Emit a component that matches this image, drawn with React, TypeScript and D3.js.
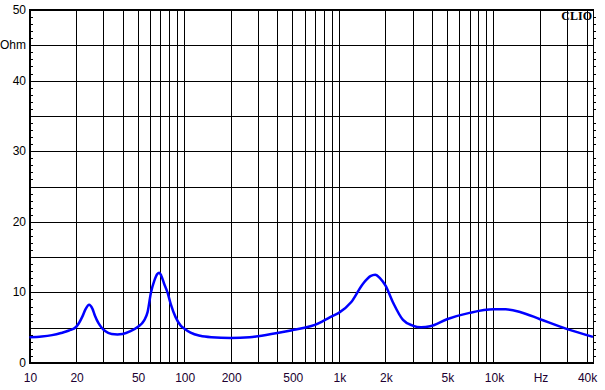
import React from "react";
import * as d3 from "d3";

const freqs = [10, 12, 14, 16, 18, 20, 22, 23, 24.3, 25.5, 26.5, 28, 29.3, 31, 34, 37, 40, 45, 50, 55, 58, 61, 64, 67, 69, 71, 74, 78, 82, 88, 95, 100, 110, 127, 150, 200, 265, 300, 400, 500, 600, 700, 800, 900, 1000, 1200, 1430, 1600, 1720, 1850, 2000, 2250, 2600, 3000, 3400, 3900, 5000, 7000, 10000, 12000, 15000, 20000, 30000, 44000];
const ohms = [3.65, 3.75, 3.95, 4.25, 4.6, 5.1, 6.6, 7.6, 8.25, 7.7, 6.7, 5.6, 5.0, 4.5, 4.1, 4.05, 4.1, 4.5, 5.1, 6.0, 7.2, 10.0, 11.6, 12.6, 12.8, 12.4, 11.3, 10.0, 8.3, 6.5, 5.3, 4.9, 4.3, 3.85, 3.65, 3.55, 3.65, 3.8, 4.25, 4.65, 5.0, 5.4, 6.0, 6.6, 7.1, 8.6, 11.2, 12.3, 12.5, 12.0, 11.0, 8.5, 6.1, 5.3, 5.05, 5.2, 6.2, 7.1, 7.6, 7.6, 7.2, 6.2, 4.8, 3.7];

const xTickValues = [10, 20, 50, 100, 200, 500, 1000, 2000, 5000, 10000, 20000, 40000];
const xTickLabels = ["10", "20", "50", "100", "200", "500", "1k", "2k", "5k", "10k", "Hz", "40k"];
const yTickValues = [0, 10, 20, 30, 40, 45, 50];
const yTickLabels = ["0", "10", "20", "30", "40", "Ohm", "50"];

export default function App() {
  const W = 605, H = 390;
  const left = 29.5, right = 593, top = 10, bottom = 363;
  const x = d3.scaleLog().domain([10, 44000]).range([left, right]);
  const y = d3.scaleLinear().domain([0, 50]).range([bottom, top]);

  const vLines: number[] = [];
  [10, 100, 1000, 10000].forEach((d) => {
    for (let m = 1; m <= 9; m++) {
      const f = m * d;
      if (f > 10 && f <= 40000) vLines.push(f);
    }
  });
  const hLines = d3.range(5, 50, 5);
  const minor = d3.range(1, 50, 1).filter((v) => v % 5 !== 0);

  const data = freqs.map((f, i) => [f, ohms[i]] as [number, number]);
  const line = d3
    .line<[number, number]>()
    .x((d) => x(d[0]))
    .y((d) => y(d[1]))
    .curve(d3.curveMonotoneX);

  return (
    <svg width={W} height={H} style={{ position: "absolute", left: 0, top: 0, background: "#fff" }}
      fontFamily="'Liberation Sans', Arial, sans-serif">
      <rect x={0} y={0} width={W} height={H} fill="#fff" />
      <g stroke="#000" strokeWidth={1} shapeRendering="crispEdges">
        {vLines.map((f) => (
          <line key={"v" + f} x1={Math.round(x(f)) + 0.5} x2={Math.round(x(f)) + 0.5} y1={top} y2={bottom} />
        ))}
        {hLines.map((v) => (
          <line key={"h" + v} x1={left} x2={right} y1={Math.round(y(v)) + 0.5} y2={Math.round(y(v)) + 0.5} />
        ))}
        {minor.map((v) => (
          <line key={"ml" + v} x1={left} x2={left + 3} y1={Math.round(y(v)) + 0.5} y2={Math.round(y(v)) + 0.5} />
        ))}
        {minor.map((v) => (
          <line key={"mr" + v} x1={right} x2={right + 3} y1={Math.round(y(v)) + 0.5} y2={Math.round(y(v)) + 0.5} />
        ))}
        <line x1={right + 0.5} x2={right + 0.5} y1={top} y2={bottom} />
      </g>
      <g stroke="#000" strokeWidth={2} shapeRendering="crispEdges">
        <line x1={left - 1} x2={right + 1} y1={top} y2={top} />
        <line x1={left - 1} x2={right + 1} y1={bottom} y2={bottom} />
        <line x1={left} x2={left} y1={top - 1} y2={bottom + 1} />
      </g>
      <path d={line(data) || ""} fill="none" stroke="#0000ff" strokeWidth={2.5} strokeLinejoin="round" />
      <g fontSize={12} fill="#000" textAnchor="end">
        {yTickValues.map((v, i) => (
          <text key={"yl" + v} x={26} y={y(v) + 4}>{yTickLabels[i]}</text>
        ))}
      </g>
      <g fontSize={12} fill="#200030" textAnchor="middle">
        {xTickValues.map((f, i) => (
          <text key={"xl" + f} x={x(f) + 1} y={382}>{xTickLabels[i]}</text>
        ))}
      </g>
      <text x={592} y={20} textAnchor="end" fontFamily="'Liberation Serif', 'DejaVu Serif', serif"
        fontWeight="bold" fontSize={12} fill="#000">CLIO</text>
    </svg>
  );
}
